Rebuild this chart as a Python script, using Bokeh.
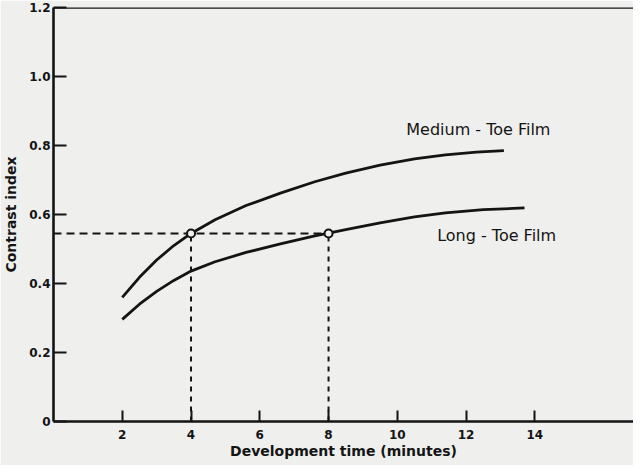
from bokeh.plotting import figure
from bokeh.models import Range1d, FixedTicker, Span, CustomJSTickFormatter
from bokeh.core.properties import value
from bokeh.embed import file_html
from bokeh.resources import INLINE

# ---- data ----
medium_x = [2.0, 2.5, 3.0, 3.5, 4.0, 4.7, 5.6, 6.6, 7.6, 8.5, 9.5, 10.5, 11.4, 12.3, 13.1]
medium_y = [0.36, 0.418, 0.468, 0.51, 0.545, 0.585, 0.626, 0.662, 0.695, 0.72, 0.743, 0.761, 0.773, 0.781, 0.785]
long_x = [2.0, 2.5, 3.0, 3.5, 4.0, 4.7, 5.6, 6.6, 7.6, 8.0, 8.5, 9.5, 10.5, 11.4, 12.5, 13.7]
long_y = [0.296, 0.34, 0.377, 0.409, 0.436, 0.463, 0.49, 0.515, 0.538, 0.546, 0.556, 0.576, 0.593, 0.605, 0.614, 0.619]
ref_level = 0.545
ref_times = [4, 8]
x_ticks = [2, 4, 6, 8, 10, 12, 14]
y_ticks = [0, 0.2, 0.4, 0.6, 0.8, 1.0, 1.2]
series_names = ["Medium - Toe Film", "Long - Toe Film"]

INK = "#141414"
PAPER = "#efefed"
FONT = "DejaVu Sans"

p = figure(width=633, height=465, output_backend="svg", toolbar_location=None,
           x_range=Range1d(0, 16.87), y_range=Range1d(0, 1.2),
           min_border_left=51, min_border_right=0, min_border_top=7, min_border_bottom=44,
           background_fill_color=PAPER, border_fill_color=PAPER)
p.outline_line_color = None
p.grid.visible = False

# axes
for ax in (p.xaxis[0], p.yaxis[0]):
    ax.axis_line_width = 2.6
    ax.axis_line_color = INK
    ax.major_tick_line_color = INK
    ax.major_tick_line_width = 2
    ax.major_tick_out = 0
    ax.minor_tick_line_color = None
    ax.major_label_text_font = FONT
    ax.major_label_text_font_style = "bold"
    ax.major_label_text_font_size = "12px"
    ax.major_label_text_color = INK
    ax.axis_label_text_font = FONT
    ax.axis_label_text_font_style = "bold"
    ax.axis_label_text_font_size = "14px"
    ax.axis_label_text_color = INK

p.xaxis.ticker = FixedTicker(ticks=x_ticks)
p.xaxis.major_tick_in = 11
p.xaxis.major_label_standoff = 8
p.xaxis.axis_label = "Development time (minutes)"
p.xaxis.axis_label_standoff = 1

p.yaxis.ticker = FixedTicker(ticks=y_ticks)
p.yaxis.major_tick_in = 13
p.yaxis.major_label_standoff = 3
p.yaxis.formatter = CustomJSTickFormatter(code="return tick == 0 ? '0' : tick.toFixed(1);")
p.yaxis.axis_label = "Contrast index"
p.yaxis.axis_label_standoff = 7

# top border line
p.add_layout(Span(location=y_ticks[-1], dimension="width", line_color=INK, line_width=2.6))

# dashed reference lines
p.segment(x0=[0], y0=[ref_level], x1=[max(ref_times)], y1=[ref_level],
          line_color=INK, line_width=2, line_dash="8 5")
p.segment(x0=ref_times, y0=[0] * len(ref_times), x1=ref_times, y1=[ref_level] * len(ref_times),
          line_color=INK, line_width=2, line_dash="5 5")

# curves
p.line(medium_x, medium_y, line_color=INK, line_width=2.8, line_join="round")
p.line(long_x, long_y, line_color=INK, line_width=2.8, line_join="round")

# open circles
p.scatter(ref_times, [ref_level] * len(ref_times), size=8, marker="circle",
          fill_color=PAPER, line_color=INK, line_width=2)

# curve labels
p.text(x=[10.26, 11.16], y=[0.846, 0.539], text=series_names,
       text_font=value(FONT), text_font_size="16px", text_color=INK,
       text_align="left", text_baseline="middle")

open("out.html", "w").write(file_html(p, INLINE))
